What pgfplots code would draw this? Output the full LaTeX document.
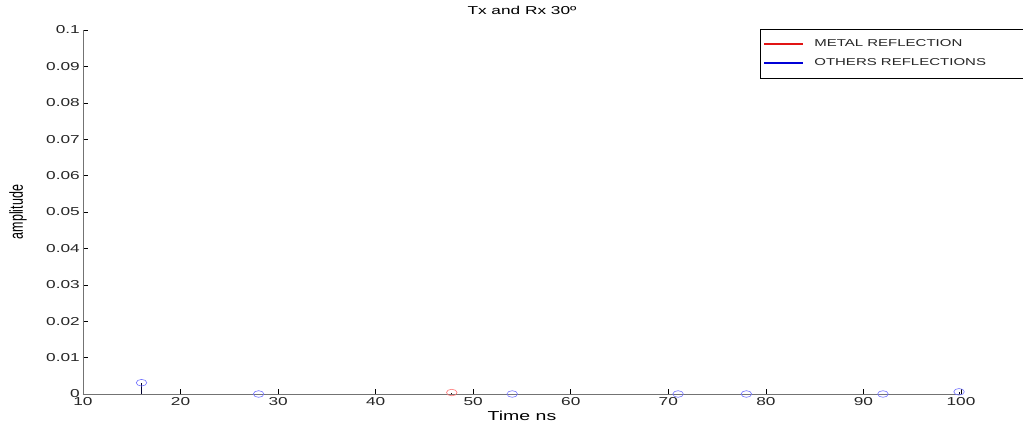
\documentclass[border=0pt]{standalone}
\usepackage{pgfplots}
\pgfplotsset{compat=1.18}
\usepackage{fontspec}
\setmainfont{Liberation Sans}[FakeStretch=1.5]
\newfontfamily\plainfont{Liberation Sans}
\definecolor{mred}{RGB}{225,20,20}
\definecolor{mblue}{RGB}{0,0,215}
\begin{document}
\begin{tikzpicture}
\useasboundingbox (-83pt,-30pt) rectangle (940pt,394pt);
\begin{axis}[
  scale only axis, width=878pt, height=364pt,
  xmin=10, xmax=100, ymin=0, ymax=0.1,
  xtick={10,20,30,40,50,60,70,80,90,100},
  ytick={0,0.01,0.02,0.03,0.04,0.05,0.06,0.07,0.08,0.09,0.1},
  yticklabels={0,0.01,0.02,0.03,0.04,0.05,0.06,0.07,0.08,0.09,0.1},
  xticklabels={10,20,30,40,50,60,70,80,90,100},
  axis x line*=bottom, axis y line*=left,
  axis line style={black!55, line width=0.7pt},
  tick align=inside, major tick length=5pt,
  major tick style={black, line width=0.6pt},
  /pgf/number format/assume math mode=true,
  tick label style={font=\fontsize{11.5}{13}\selectfont, text=black!85},
  yticklabel style={anchor=east, inner sep=0pt, xshift=-3pt},
  xticklabel style={anchor=north, inner sep=0pt, yshift=-3pt},
  clip=false,
  title={Tx and Rx 30º},
  title style={at={(rel axis cs:0.5,1)}, anchor=base, yshift=9pt, font=\fontsize{11.5}{13}\selectfont},
  xlabel={Time ns},
  xlabel style={at={(rel axis cs:0.5,0)}, anchor=base, yshift=-26pt, font=\fontsize{13}{15}\selectfont},
  ylabel={amplitude},
  ylabel style={at={(rel axis cs:-0.074,0.5)}, anchor=center, rotate=0, font=\plainfont\fontsize{12.5}{14}\selectfont, yscale=1.5},
  legend image code/.code={\draw[#1] (8pt,0pt) -- (47pt,0pt);},
  legend cell align=left,
  legend style={at={(rel axis cs:0.7711,1.004)}, anchor=north west,
    draw=black, line width=0.6pt, font=\fontsize{10}{11}\selectfont,
    inner xsep=3pt, inner ysep=9pt, row sep=6pt, text=black!85},
]
\addlegendimage{mred, line width=2pt}
\addlegendentry{\hspace*{8pt}\makebox[207pt][l]{METAL REFLECTION}}
\addlegendimage{mblue, line width=2pt}
\addlegendentry{\hspace*{8pt}\makebox[207pt][l]{OTHERS REFLECTIONS}\rule[-9pt]{0pt}{1pt}}
\addplot[forget plot, ycomb, draw=black!80!blue, line width=0.8pt,
  mark=o, mark size=3.3pt, mark options={draw=blue!55, line width=0.6pt, xscale=1.6}]
  coordinates {(16,0.0031) (28,0) (54,0) (71,0) (78,0) (92,0) (99.8,0.0006)};
\addplot[forget plot, ycomb, draw=black!80!red, line width=0.8pt,
  mark=o, mark size=3.3pt, mark options={draw=red!55, line width=0.6pt, xscale=1.6}]
  coordinates {(47.8,0.0004)};
\end{axis}
\end{tikzpicture}
\end{document}
